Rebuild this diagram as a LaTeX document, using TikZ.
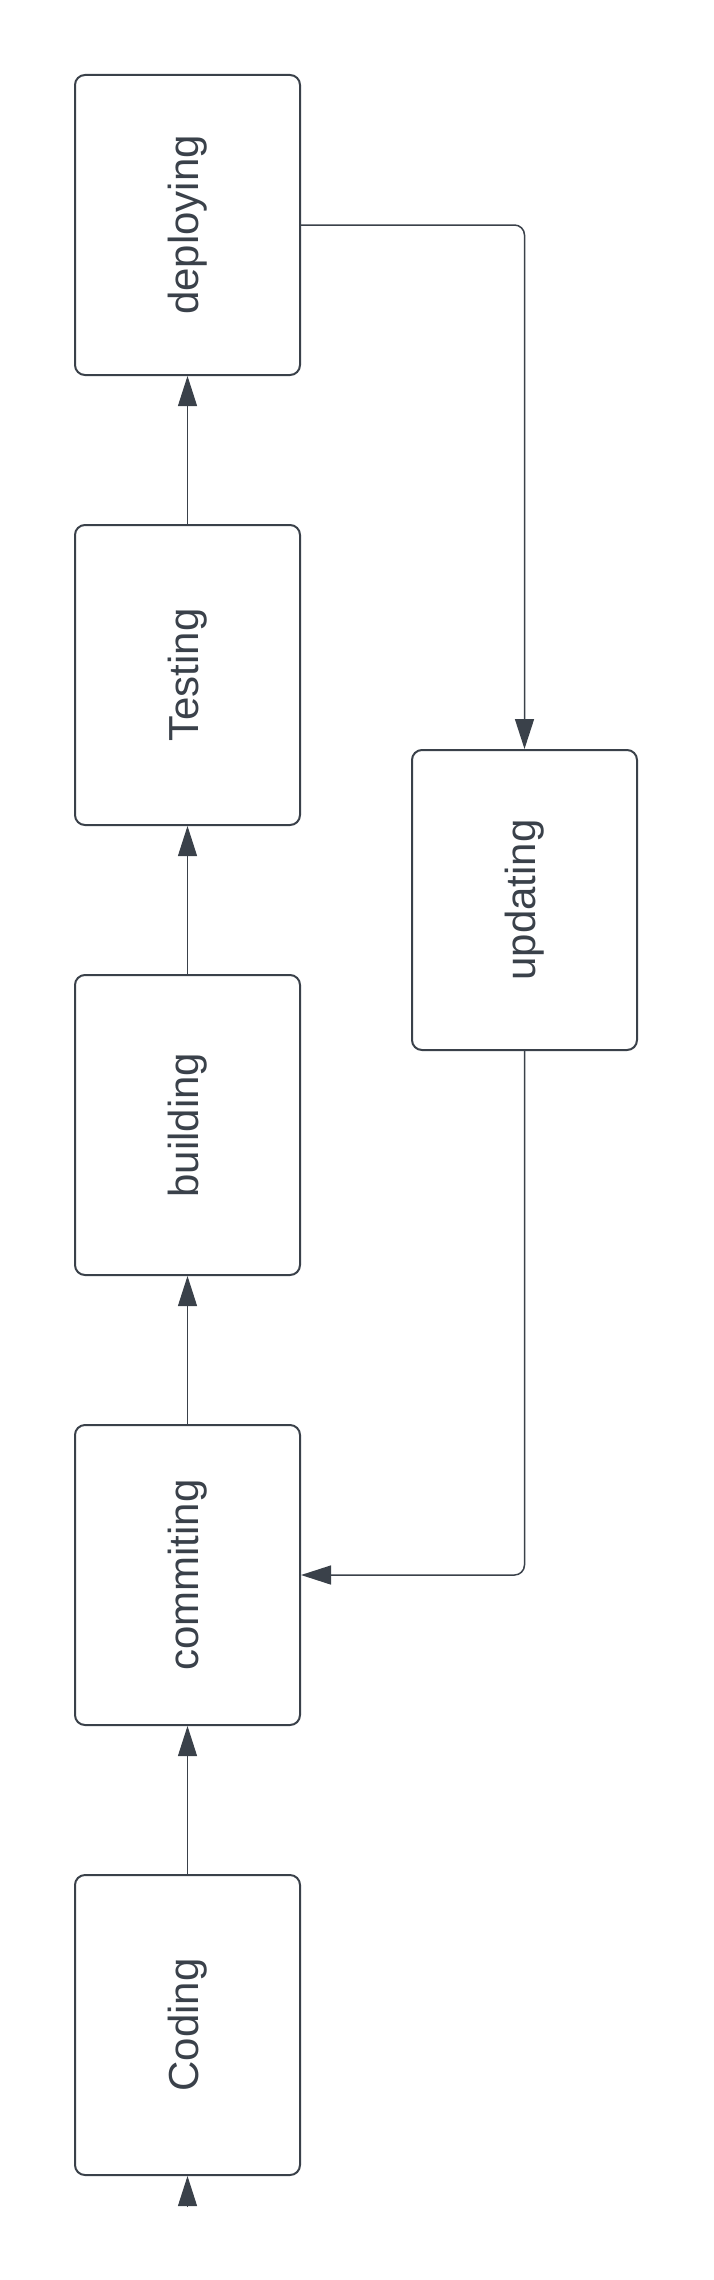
\documentclass[tikz,border=0pt]{standalone}
\usepackage{fontspec}
\setmainfont{Liberation Sans}
\usetikzlibrary{arrows.meta}
\definecolor{ink}{RGB}{58,65,74}
\begin{document}
\begin{tikzpicture}[x=1pt,y=-1pt,
  stagebox/.style={draw=ink, line width=2pt, rounded corners=10pt, minimum width=300pt, minimum height=225pt,
    inner sep=0pt, rotate=90, text=ink, font=\fontsize{42}{50}\selectfont},
  flow/.style={draw=ink, line width=1pt, -{Triangle[length=30pt,width=19pt]}},
  loopflow/.style={draw=ink, line width=1.5pt, rounded corners=10pt, -{Triangle[length=30pt,width=19pt]}}]
\useasboundingbox (0,0) rectangle (713,2280);
\node[stagebox] (deploy) at (187.5,225) {deploying};
\node[stagebox] (test) at (187.5,675) {Testing};
\node[stagebox] (build) at (187.5,1125) {building};
\node[stagebox] (commit) at (187.5,1575) {commiting};
\node[stagebox] (code) at (187.5,2025) {Coding};
\node[stagebox] (update) at (524.5,900) {updating};
\coordinate (start) at (187.5,2207);
\draw[flow] (start) -- (code.west);
\draw[flow] (code.east) -- (commit.west);
\draw[flow] (commit.east) -- (build.west);
\draw[flow] (build.east) -- (test.west);
\draw[flow] (test.east) -- (deploy.west);
\draw[loopflow] (deploy.south) -| (update.east);
\draw[loopflow] (update.west) |- (commit.south);
\end{tikzpicture}
\end{document}
